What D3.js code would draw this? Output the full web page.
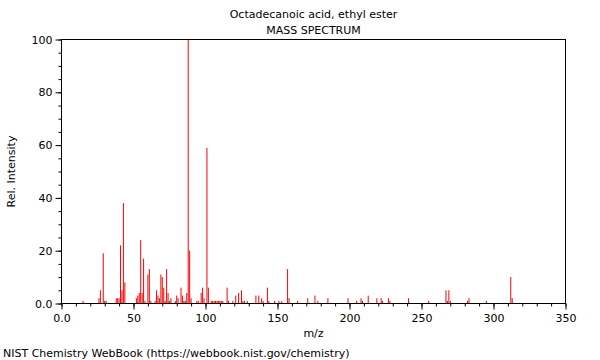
<!DOCTYPE html>
<html><head><meta charset="utf-8">
<script src="https://cdn.jsdelivr.net/npm/d3@7/dist/d3.min.js"></script>
<style>body{margin:0;background:#fff}svg{display:block;font-family:"DejaVu Sans",sans-serif}</style>
</head><body><svg id="c" width="600" height="360"></svg>
<script>
const title = "Octadecanoic acid, ethyl ester";
const subtitle = "MASS SPECTRUM";
const xLabel = "m/z";
const yLabel = "Rel. Intensity";
const footer = "NIST Chemistry WebBook (https://webbook.nist.gov/chemistry)";
const mz = [15,26,27,29,30,31,38,39,40,41,42,43,44,52,53,54,55,56,57,58,60,61,62,65,66,67,68,69,70,71,72,73,74,75,76,79,80,81,83,84,85,86,87,88,89,90,94,95,97,98,99,101,102,104,105,106,107,108,109,110,111,112,115,116,119,121,123,125,126,127,129,135,137,139,140,143,144,148,151,153,157,158,164,171,176,178,185,199,205,208,209,213,219,222,223,227,228,241,255,267,268,269,270,282,283,295,312,313];
const intensity = [1,2,5,19,1,1,2,2,2,22,5,38,8,2,3,4,24,4,17,1,11,13,1,1,5,3,2,11,10,6,1,13,4,1,2,1,3,2,6,3,1,1,4,100,20,2,1,1,4,6,2,59,6,1,1,1,1,1,1,1,1,1,6,1,1,3,4,5,1,1,1,3,3,2,1,6,1,1,1,1,13,2,1,2,3,1,2,2,1,2,1,3,2,2,1,2,1,2,1,5,1,5,1,1,2,1,10,2];
const xTicks = [0,50,100,150,200,250,300,350];
const yTicks = [0,20,40,60,80,100];

const svg = d3.select("#c");
const L = 61.5, R = 565.5, T = 39.5, B = 303.5;
const x = d3.scaleLinear().domain([0,350]).range([L,R]);
const y = d3.scaleLinear().domain([0,100]).range([B,T]);
const fmt = d => d === 0 ? "0.0" : String(d);

// peaks
svg.append("g").selectAll("line").data(mz).join("line")
  .attr("x1", d => x(d)).attr("x2", d => x(d))
  .attr("y1", y(0)).attr("y2", (d,i) => y(intensity[i]))
  .attr("stroke", "#ff0000").attr("stroke-width", 1);

// x axis
const xa = svg.append("g").attr("transform", `translate(0,${B})`);
xa.call(d3.axisBottom(x).tickValues(d3.range(0,351,10)).tickSize(3).tickFormat(""));
xa.call(g => g.select(".domain").remove());
const xb = svg.append("g").attr("transform", `translate(0,${B})`)
  .call(d3.axisBottom(x).tickValues(xTicks).tickSize(6).tickPadding(5).tickFormat(fmt));
xb.select(".domain").remove();
xb.selectAll("text").attr("font-size", 11).attr("font-family", "DejaVu Sans").attr("fill", "#000");

// y axis
const ya = svg.append("g").attr("transform", `translate(${L},0)`);
ya.call(d3.axisLeft(y).tickValues(d3.range(0,101,5)).tickSize(3).tickFormat(""));
ya.select(".domain").remove();
const yb = svg.append("g").attr("transform", `translate(${L},0)`)
  .call(d3.axisLeft(y).tickValues(yTicks).tickSize(6).tickPadding(3).tickFormat(fmt));
yb.select(".domain").remove();
yb.selectAll("text").attr("font-size", 11).attr("font-family", "DejaVu Sans").attr("fill", "#000");

// frame
svg.append("rect").attr("x", L).attr("y", T).attr("width", R-L).attr("height", B-T)
  .attr("fill", "none").attr("stroke", "#000").attr("stroke-width", 1);

const cx = (L+R)/2;
svg.append("text").attr("x", cx).attr("y", 18).attr("text-anchor","middle").attr("font-size",11).text(title);
svg.append("text").attr("x", cx).attr("y", 34).attr("text-anchor","middle").attr("font-size",11).text(subtitle);
svg.append("text").attr("x", cx).attr("y", 337).attr("text-anchor","middle").attr("font-size",11).text(xLabel);
svg.append("text").attr("transform", `translate(15,${(T+B)/2}) rotate(-90)`).attr("text-anchor","middle").attr("font-size",11).text(yLabel);
svg.append("text").attr("x", 3).attr("y", 357).attr("font-size",11).text(footer);
</script></body></html>
